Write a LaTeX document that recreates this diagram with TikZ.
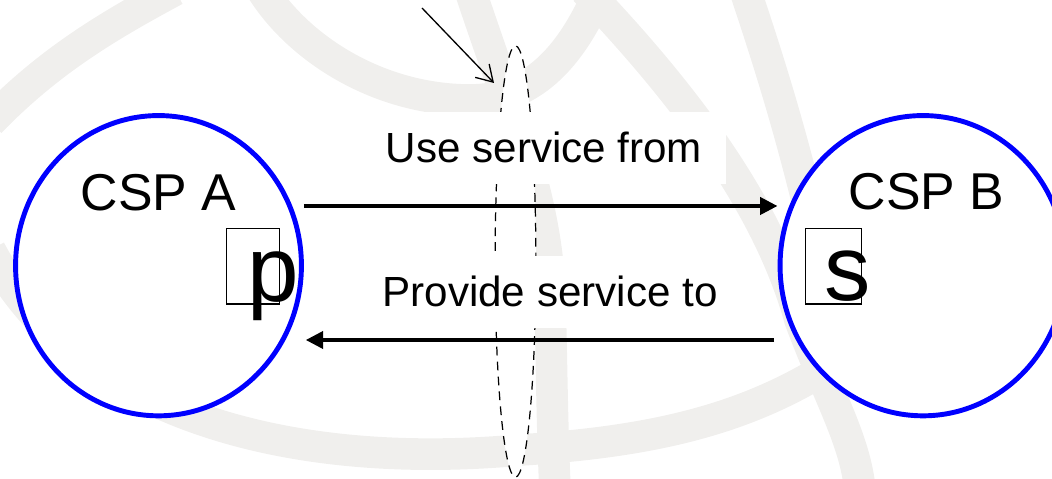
\documentclass[tikz,border=0pt]{standalone}
\usepackage{fontspec}
\setmainfont{Liberation Sans}
\usetikzlibrary{arrows.meta,shapes.geometric,calc}
\definecolor{wm}{RGB}{240,239,237}
\definecolor{cspblue}{RGB}{0,0,255}
\begin{document}
\begin{tikzpicture}[x=0.02cm,y=-0.02cm,
  wmband/.style={draw=wm,line width=18pt},
  csp/.style={ellipse,draw=cspblue,line width=2.8pt,fill=white,inner sep=0pt,
    minimum width=162.7pt,minimum height=170.9pt},
  boundary/.style={ellipse,draw=black,line width=0.7pt,fill=white,inner sep=0pt,
    dash pattern=on 5pt off 3.5pt,minimum width=23.2pt,minimum height=245.5pt},
  cspname/.style={font=\fontsize{29.5}{35}\selectfont,inner sep=0pt,anchor=base},
  flowlbl/.style={font=\fontsize{24}{29}\selectfont,fill=white,inner sep=0pt,anchor=base,
    text height=29pt,text depth=12pt,minimum width=207pt},
  portbox/.style={draw=black,line width=0.7pt,inner sep=0pt,minimum height=42.8pt},
  portletter/.style={font=\fontsize{52.7}{60}\selectfont,inner sep=0pt,anchor=base west},
  bigarrow/.style={line width=2.8pt,-{Triangle[length=10pt,width=9.6pt]}},
  pointer/.style={line width=0.75pt,-{Straight Barb[length=9pt,width=11pt]}}]
\useasboundingbox (0,0) rectangle (1052,479);
\clip (0,0) rectangle (1052,479);
% watermark
\draw[wmband] (-10,122) .. controls (50,60) and (110,25) .. (175,-10);
\draw[wmband] (262,-10) .. controls (300,50) and (380,100) .. (470,100) .. controls (530,100) and (570,60) .. (600,-10);
\draw[wmband] (470,-10) .. controls (510,110) and (548,200) .. (550,300) .. controls (552,380) and (552,420) .. (555,490);
\draw[wmband] (585,-10) .. controls (690,100) and (770,210) .. (800,320) .. controls (830,400) and (855,440) .. (860,490);
\draw[wmband] (745,-10) .. controls (775,80) and (800,160) .. (830,300);
\draw[wmband] (-10,250) .. controls (80,420) and (300,470) .. (520,450) .. controls (680,440) and (780,410) .. (880,330);
% boundary (dashed)
\node[boundary] (bd) at (515.5,261.5) {};
% labels
\node[flowlbl] (use) at (544,163) {Use service from};
\node[flowlbl] (prov) at (550,307) {Provide service to};
% CSPs
\node[csp] (A) at (158.5,265.7) {};
\node[csp] (B) at (923,265.7) {};
\node[cspname] (la) at (158.5,211) {CSP A};
\node[cspname] (lb) at (926.5,210) {CSP B};
% ports
\node[portbox,minimum width=30pt] (bp) at (253,266.3) {};
\node[portbox,minimum width=32.1pt] (bs) at (833.4,266.3) {};
\node[portletter] (lp) at (247,302) {p};
\node[portletter] (ls) at (824,301) {s};
% arrows
\coordinate (ytop) at (0,206);
\coordinate (ybot) at (0,340);
\draw[bigarrow] (A.east |- ytop) -- (B.west |- ytop);
\draw[bigarrow,shorten <=2pt,shorten >=1pt] (B.west |- ybot) -- (A.east |- ybot);
% pointer
\coordinate (src) at (422,8);
\coordinate (tip) at (494,83);
\draw[pointer] (src) -- (tip);
\end{tikzpicture}
\end{document}
